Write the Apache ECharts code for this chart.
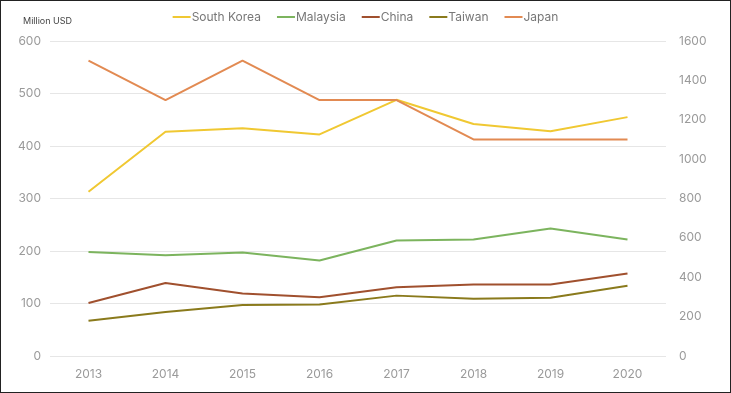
<!DOCTYPE html>
<html><head><meta charset="utf-8">
<script src="https://cdn.jsdelivr.net/npm/echarts@6/dist/echarts.min.js"></script>
<style>
html,body{margin:0;padding:0;background:#fff;}
#c{width:731px;height:393px;box-sizing:border-box;border:1.5px solid #222;}
</style></head>
<body><div id="c"></div>
<script>
const years = ['2013','2014','2015','2016','2017','2018','2019','2020'];
const southKorea = [313, 427, 434, 422, 488, 442, 428, 455];
const malaysia = [198, 192, 197, 182, 220, 222, 243, 222];
const china = [101, 139, 119, 112, 131, 136, 136, 157];
const taiwan = [67, 84, 97, 98, 115, 109, 111, 134];
const japan = [1500, 1300, 1500, 1300, 1300, 1100, 1100, 1100];

const chart = echarts.init(document.getElementById('c'));
const lbl = {color:'#9a9a9a', fontSize:12, fontFamily:'Inter'};
function ser(name, data, color, axis){
  return {name, type:'line', data, yAxisIndex:axis, symbol:'none',
    lineStyle:{width:2, color}, itemStyle:{color}};
}
chart.setOption({
  animation:false,
  textStyle:{fontFamily:'Inter'},
  title:{text:'Million USD', left:17, top:11, textStyle:{fontSize:9, fontWeight:'normal', color:'#444', fontFamily:'Inter'}},
  legend:{top:5, left:'center', itemWidth:18, itemHeight:2, itemGap:16, icon:'rect',
    textStyle:{color:'#777', fontSize:12, padding:[0,0,0,-4], fontFamily:'Inter'}},
  grid:{left:49, right:64, top:40, bottom:36},
  xAxis:{type:'category', data:years, boundaryGap:true,
    axisLine:{show:false}, axisTick:{show:false}, axisLabel:Object.assign({margin:12}, lbl)},
  yAxis:[
    {type:'value', min:0, max:600, interval:100, axisLabel:Object.assign({margin:9}, lbl),
     splitLine:{lineStyle:{color:'#e6e6e6'}}, axisLine:{show:false}, axisTick:{show:false}},
    {type:'value', min:0, max:1600, interval:200, axisLabel:Object.assign({margin:13, formatter:v=>String(v)}, lbl),
     splitLine:{show:false}, axisLine:{show:false}, axisTick:{show:false}}
  ],
  series:[
    ser('South Korea', southKorea, '#f0c832', 0),
    ser('Malaysia', malaysia, '#7cb45e', 0),
    ser('China', china, '#a0502e', 0),
    ser('Taiwan', taiwan, '#8a7a1c', 0),
    ser('Japan', japan, '#e28a52', 1)
  ]
});
</script></body></html>
